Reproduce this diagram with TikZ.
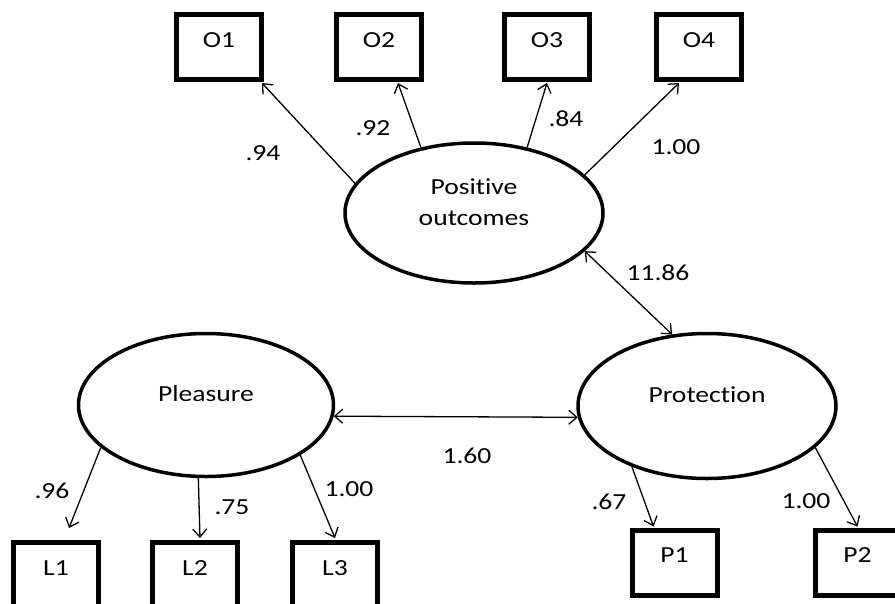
\documentclass[tikz,border=0pt]{standalone}
\usepackage{fontspec}
\setmainfont{Carlito}[FakeStretch=1.2, RawFeature={-liga}]
\usetikzlibrary{shapes.geometric,arrows.meta,calc}
\begin{document}
\begin{tikzpicture}[x=1pt,y=-1pt,
  every node/.style={font=\fontsize{23}{28}\selectfont},
  obs/.style={draw, line width=5pt, minimum width=85pt, minimum height=65pt,
              inner sep=0pt, text height=15pt, text depth=15pt},
  lat/.style={draw, ellipse, line width=3.5pt, inner sep=0pt},
  barb/.tip={Straight Barb[length=8pt,width=14pt]},
  lnk/.style={line width=1.3pt, -barb},
  cov/.style={line width=1.3pt, barb-barb},
  lab/.style={inner sep=0pt}]
\useasboundingbox (0,0) rectangle (895,603);
\clip (0,0) rectangle (895,603);

% observed indicators
\node[obs] (O1) at (219,47) {O1};
\node[obs] (O2) at (379,47) {O2};
\node[obs] (O3) at (547,47) {O3};
\node[obs] (O4) at (699,47) {O4};
\node[obs] (L1) at (56,575) {L1};
\node[obs] (L2) at (195,575) {L2};
\node[obs] (L3) at (335,575) {L3};
\node[obs] (P1) at (674.5,562.5) {P1};
\node[obs] (P2) at (857.5,562.5) {P2};

% latent factors
\node[lat, minimum width=258pt, minimum height=140pt, text height=46pt, text depth=22pt] (PO) at (474,213)
  {\begin{tabular}[b]{@{}c@{}}Positive\\[3pt]outcomes\end{tabular}};
\node[lat, minimum width=255pt, minimum height=143pt, text height=15pt, text depth=23pt] (PL) at (206,405) {Pleasure};
\node[lat, minimum width=258pt, minimum height=145pt, text height=15pt, text depth=23pt] (PR) at (707,406) {Protection};

% loadings
\draw[lnk] (PO.166) -- ($(O1.south east)+(-2,1)$);
\draw[lnk] (PO.129) -- ($(O2.south)+(19,1)$);
\draw[lnk] (PO.51) -- ($(O3.south)+(0,1)$);
\draw[lnk] (PO.19) -- ($(O4.south)+(-20,1)$);

\draw[lnk] (PL.202) -- ($(L1.north)+(13,-12)$);
\draw[lnk] (PL.264) -- ($(L2.north)+(5,-2)$);
\draw[lnk] (PL.332) -- ($(L3.north)+(0,-2)$);

\draw[lnk] (PR.219) -- ($(P1.north)+(-21,-1)$);
\draw[lnk] (PR.339) -- ($(P2.north)+(0,-1)$);

% covariances
\draw[cov] (PO.341) -- (PR.116);
\draw[cov] (PL.355) -- (PR.185);

% labels
\node[lab] (l94) at (263,153) {.94};
\node[lab] (l92) at (373,128) {.92};
\node[lab] (l84) at (566,119) {.84};
\node[lab] (l100a) at (676,147) {1.00};
\node[lab] (l1186) at (658,273) {11.86};
\node[lab] (l160) at (467,456) {1.60};
\node[lab] (l96) at (52,491) {.96};
\node[lab] (l75) at (232,507) {.75};
\node[lab] (l100b) at (349,489) {1.00};
\node[lab] (l67) at (609,502) {.67};
\node[lab] (l100c) at (806,501) {1.00};
\end{tikzpicture}
\end{document}
